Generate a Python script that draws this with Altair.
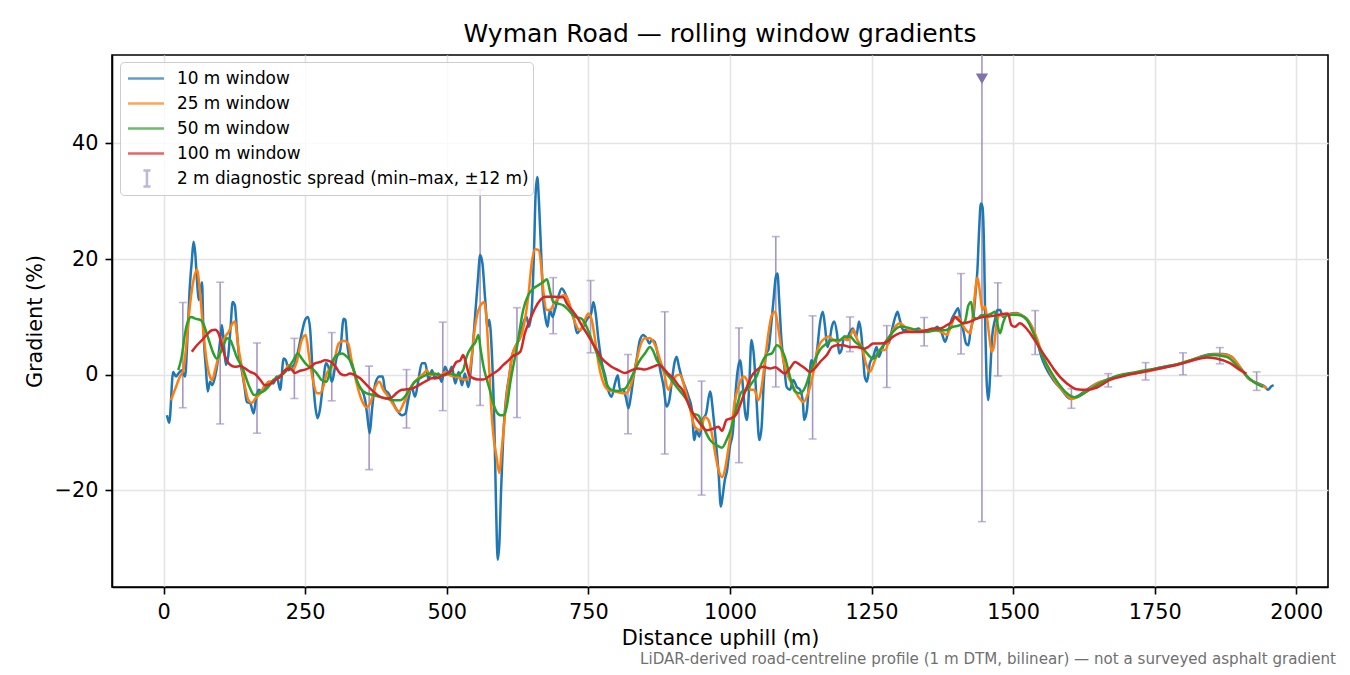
import pandas as pd
import altair as alt

FONT = "DejaVu Sans"

# 10 m window (distance m, gradient %)
d10 = [6, 10, 17, 22, 26, 32, 38, 42, 46, 50, 53, 56, 59, 62, 65, 68, 70, 75, 78, 82,
       86, 91, 96, 100, 103, 106, 110, 114, 118, 122, 126, 129, 133, 138, 143, 147, 153, 159, 163, 168,
       174, 179, 186, 194, 200, 206, 212, 216, 221, 227, 232, 238, 244, 250, 255, 259, 263, 268, 272, 276,
       281, 287, 291, 297, 306, 312, 318, 321, 325, 331, 338, 344, 350, 356, 360, 364, 368, 374, 381, 387,
       391, 397, 403, 412, 421, 427, 432, 438, 444, 450, 456, 462, 468, 474, 479, 485, 491, 497, 503, 509,
       515, 521, 527, 532, 538, 544, 550, 555, 559, 563, 568, 572, 575, 580, 584, 587, 590, 593, 596, 600,
       605, 611, 615, 624, 630, 635, 641, 645, 650, 654, 657, 660, 663, 667, 670, 674, 678, 682, 687, 691,
       697, 703, 709, 715, 721, 725, 730, 735, 741, 747, 755, 759, 763, 768, 774, 780, 785, 791, 797, 802,
       806, 812, 816, 821, 825, 830, 836, 841, 847, 853, 858, 862, 867, 871, 877, 883, 888, 893, 897, 902,
       906, 910, 915, 921, 927, 933, 937, 941, 946, 952, 958, 965, 971, 976, 980, 984, 987, 991, 995, 1000,
       1005, 1009, 1013, 1018, 1023, 1027, 1030, 1034, 1038, 1043, 1047, 1052, 1056, 1060, 1064, 1068, 1072, 1077, 1081, 1084,
       1087, 1091, 1096, 1100, 1106, 1112, 1118, 1124, 1129, 1131, 1136, 1140, 1144, 1150, 1154, 1159, 1164, 1168, 1172, 1176,
       1180, 1184, 1189, 1193, 1197, 1202, 1206, 1211, 1217, 1223, 1228, 1232, 1235, 1238, 1242, 1247, 1253, 1259, 1263, 1268,
       1274, 1280, 1286, 1292, 1296, 1300, 1306, 1315, 1324, 1333, 1341, 1350, 1359, 1366, 1374, 1380, 1386, 1392, 1397, 1403,
       1407, 1412, 1417, 1421, 1425, 1430, 1434, 1437, 1440, 1443, 1446, 1449, 1451, 1453, 1456, 1458, 1461, 1463, 1468, 1472,
       1477, 1482, 1489, 1497, 1506, 1515, 1524, 1533, 1542, 1550, 1557, 1571, 1586, 1600, 1612, 1630, 1648, 1665, 1689, 1706,
       1730, 1753, 1783, 1806, 1830, 1853, 1871, 1886, 1900, 1915, 1933, 1945, 1950, 1956, 1960]
g10 = [-7.0, -8.3, 0.5, -0.3, 0.2, 0.8, -0.3, 6.0, 14.6, 19.8, 23.0, 21.0, 16.4, 12.9, 14.6, 16.0, 8.9, 0.8, -2.9, -1.2,
       -1.8, -0.3, 2.5, 6.0, 8.6, 6.0, 1.7, 3.1, 7.7, 12.6, 12.0, 8.3, 3.4, 0.8, -2.1, -4.7, -4.9, -6.7, -4.4, -2.6,
       -2.9, -2.1, -1.2, -1.5, -0.3, -2.6, 2.8, 2.5, 0.8, 1.4, 2.0, 4.3, 7.2, 9.5, 10.0, 7.7, 0.8, -5.5, -7.5, -6.1,
       -2.1, 2.0, 1.4, -1.2, 3.1, 4.3, 9.7, 9.5, 4.8, 2.0, 0.2, -2.1, -2.6, -4.4, -7.3, -10.1, -6.1, -1.5, -0.3, -0.3,
       -2.6, -3.2, -4.4, -6.1, -7.0, -6.7, -4.4, -2.1, -3.8, -0.9, 2.0, 2.0, -0.9, 0.8, -0.6, 0.2, -1.2, 1.4, 0.2, 1.4,
       -1.5, 0.5, -1.8, 0.2, -2.1, 2.5, 10.0, 16.4, 20.7, 19.3, 12.9, 8.3, 9.5, 3.1, -8.4, -22.2, -32.0, -29.1, -19.9, -10.1,
       -3.8, 0.2, 3.1, 5.4, 6.6, 8.9, 10.0, 8.3, 11.2, 21.0, 31.4, 34.2, 29.6, 20.4, 13.5, 10.0, 8.3, 11.2, 10.0, 11.2,
       13.5, 14.9, 14.1, 12.6, 10.6, 9.5, 7.2, 7.7, 8.3, 9.5, 10.6, 12.6, 10.6, 6.0, 2.0, -0.3, -2.6, -3.8, -1.5, -0.1,
       -2.6, -2.6, -3.8, -5.8, -3.8, -0.3, 3.1, 6.0, 6.9, 6.3, 5.4, 6.0, 5.7, 4.3, 0.8, -2.1, -5.5, -4.4, -1.5, 2.0,
       3.1, 1.4, -0.5, -2.1, -3.8, -6.1, -11.3, -9.6, -10.7, -7.8, -6.7, -2.9, -7.3, -12.4, -17.0, -22.8, -21.1, -18.2, -16.5, -12.4,
       -10.1, -4.4, 0.2, 2.5, -2.1, -6.7, -7.8, -2.1, 6.0, 2.5, -4.4, -11.3, -9.0, -0.9, 3.7, 4.3, 7.7, 12.9, 16.9, 17.5,
       12.9, 6.0, 1.4, -2.1, -2.6, -0.9, -2.1, -2.6, -4.9, -7.8, -6.1, -0.9, 2.5, 1.4, 4.3, 8.9, 10.9, 8.3, 4.8, 6.0,
       8.3, 9.2, 7.2, 3.7, 4.3, 6.6, 6.0, 7.2, 8.0, 6.6, 9.2, 7.0, 3.5, -0.3, -1.2, 2.0, 3.1, 4.8, 3.1, 4.3,
       5.4, 5.4, 7.7, 10.0, 10.9, 9.5, 7.7, 7.7, 7.7, 8.0, 7.4, 7.7, 7.7, 8.3, 7.2, 5.7, 7.7, 9.7, 10.6, 11.5,
       9.5, 7.7, 5.4, 5.1, 7.7, 10.0, 14.6, 18.1, 25.0, 29.6, 29.0, 20.4, 7.7, -0.3, -4.4, -2.6, 3.1, 6.6, 9.5, 11.2,
       11.2, 10.0, 10.3, 10.6, 10.7, 10.3, 9.7, 8.3, 6.0, 3.1, 1.4, -0.9, -2.6, -4.1, -3.8, -2.6, -1.5, -0.9, -0.1, 0.2,
       0.5, 1.1, 1.7, 2.2, 3.1, 3.6, 3.6, 3.1, 1.4, -0.6, -1.5, -2.1, -2.6, -2.0, -1.8]

# 25 m window
d25 = [13, 20, 29, 35, 41, 47, 53, 59, 65, 70, 76, 82, 86, 91, 97, 103, 109, 115, 122, 126,
       132, 138, 144, 150, 156, 162, 171, 179, 188, 197, 206, 215, 221, 228, 235, 244, 251, 257, 265, 271,
       276, 282, 288, 297, 303, 309, 318, 326, 332, 341, 350, 358, 365, 374, 381, 388, 397, 406, 415, 424,
       432, 441, 450, 459, 465, 471, 479, 488, 497, 506, 515, 524, 532, 538, 544, 550, 556, 562, 566, 570,
       574, 578, 582, 588, 593, 597, 601, 606, 611, 615, 624, 633, 638, 644, 650, 656, 662, 667, 671, 677,
       682, 691, 700, 709, 718, 727, 735, 744, 750, 756, 762, 768, 777, 785, 797, 806, 815, 824, 833, 841,
       850, 859, 868, 877, 884, 891, 897, 906, 912, 921, 930, 938, 947, 956, 962, 968, 974, 980, 986, 991,
       997, 1003, 1009, 1015, 1024, 1030, 1036, 1043, 1050, 1056, 1062, 1068, 1074, 1080, 1085, 1091, 1097, 1103, 1112, 1121,
       1130, 1138, 1147, 1153, 1159, 1168, 1174, 1183, 1191, 1200, 1209, 1218, 1225, 1233, 1240, 1247, 1256, 1265, 1274, 1283,
       1292, 1300, 1309, 1318, 1333, 1347, 1362, 1374, 1383, 1390, 1397, 1403, 1409, 1417, 1424, 1430, 1434, 1437, 1441, 1446,
       1450, 1453, 1458, 1462, 1466, 1471, 1476, 1483, 1495, 1506, 1518, 1530, 1542, 1553, 1562, 1575, 1590, 1603, 1615, 1632,
       1650, 1668, 1690, 1710, 1732, 1755, 1782, 1806, 1830, 1853, 1872, 1887, 1901, 1916, 1933, 1948]
g25 = [-4.4, -2.6, -0.3, 0.8, 6.0, 12.3, 16.4, 18.2, 13.5, 7.7, 2.5, -0.3, -0.9, 0.8, 3.1, 4.8, 6.6, 7.4, 8.9, 9.2,
       4.8, 1.4, -2.1, -4.4, -4.9, -4.1, -3.2, -1.8, -1.2, -0.9, -0.3, 0.8, 1.7, 0.8, 2.2, 6.0, 6.9, 3.1, -1.5, -3.2,
       -3.2, -2.1, 0.2, 1.4, 3.1, 5.4, 5.9, 5.4, 2.5, -1.5, -4.4, -5.6, -4.9, -2.1, -1.2, -2.6, -3.8, -5.2, -6.4, -4.9,
       -3.2, -1.5, -0.6, 0.2, 0.8, -0.1, 0.2, -0.3, 0.5, -0.1, -0.3, -0.6, -0.9, -0.6, 3.1, 8.3, 11.2, 12.3, 12.6, 10.0,
       3.1, -4.9, -10.1, -14.2, -17.0, -13.0, -9.0, -3.5, 0.2, 3.1, 5.4, 7.2, 9.5, 13.5, 19.3, 21.7, 21.6, 18.7, 14.1, 11.2,
       11.2, 12.6, 13.5, 13.8, 11.8, 8.9, 7.7, 9.5, 10.6, 9.5, 6.0, 2.0, -1.5, -2.6, -2.9, -3.1, -3.2, -2.1, 1.4, 4.8,
       6.3, 6.3, 5.1, 2.5, 0.2, -2.6, -1.5, -0.1, 0.0, -2.6, -6.1, -9.0, -9.6, -7.3, -7.8, -10.1, -13.6, -16.5, -17.7, -16.5,
       -13.0, -9.0, -4.4, -2.1, -0.3, -0.9, -2.6, -2.6, -4.4, -2.1, 2.5, 7.2, 10.3, 10.9, 8.3, 4.3, 1.4, -0.3, -2.1, -3.8,
       -4.7, -3.2, 0.2, 3.7, 5.4, 6.3, 6.6, 6.0, 5.7, 6.3, 6.0, 7.8, 6.0, 4.8, 2.0, 0.5, 2.5, 4.3, 4.3, 6.6,
       8.3, 8.9, 8.3, 7.7, 7.7, 7.7, 7.7, 7.4, 6.9, 8.3, 10.0, 10.0, 8.9, 7.7, 7.2, 11.2, 15.2, 16.8, 14.6, 11.2,
       11.8, 10.6, 6.6, 4.0, 4.8, 8.9, 10.3, 10.3, 10.5, 10.6, 10.1, 8.9, 6.3, 3.1, 1.1, -1.2, -3.0, -4.2, -3.8, -2.6,
       -1.4, -0.8, -0.1, 0.2, 0.5, 1.0, 1.6, 2.3, 3.0, 3.5, 3.5, 3.0, 1.3, -0.6, -1.6, -2.3]

# 50 m window
d50 = [26, 32, 38, 44, 49, 56, 65, 70, 76, 82, 88, 94, 100, 106, 112, 118, 123, 129, 135, 141,
       147, 153, 160, 168, 176, 185, 194, 203, 212, 220, 229, 237, 244, 253, 262, 271, 279, 288, 297, 306,
       315, 324, 332, 341, 350, 359, 370, 382, 394, 406, 418, 426, 435, 444, 453, 462, 471, 482, 494, 506,
       518, 529, 535, 544, 551, 556, 560, 565, 571, 576, 582, 588, 595, 601, 606, 612, 624, 635, 644, 653,
       662, 671, 677, 682, 688, 697, 706, 715, 727, 738, 747, 756, 765, 774, 782, 791, 803, 815, 824, 832,
       841, 850, 859, 865, 871, 880, 888, 897, 906, 915, 924, 935, 944, 953, 965, 977, 986, 994, 1003, 1012,
       1021, 1030, 1038, 1047, 1056, 1065, 1074, 1083, 1088, 1097, 1106, 1115, 1124, 1133, 1141, 1150, 1159, 1171, 1183, 1194,
       1203, 1212, 1221, 1233, 1242, 1253, 1265, 1277, 1288, 1300, 1312, 1330, 1347, 1365, 1380, 1394, 1406, 1415, 1421, 1426,
       1430, 1436, 1444, 1453, 1462, 1468, 1472, 1477, 1482, 1489, 1500, 1512, 1524, 1536, 1550, 1565, 1580, 1595, 1609, 1630,
       1653, 1683, 1718, 1753, 1789, 1824, 1853, 1877, 1900, 1924, 1941]
g50 = [0.8, 3.1, 7.2, 9.5, 10.0, 9.7, 9.5, 8.9, 7.2, 5.4, 3.7, 2.8, 3.7, 5.1, 6.3, 6.0, 4.8, 3.1, 2.0, 0.8,
       -0.9, -2.4, -3.5, -3.2, -2.9, -2.1, -0.9, -0.3, 0.2, 1.1, 2.5, 3.7, 2.8, 1.7, 1.1, 0.2, -0.9, -1.2, 2.0, 3.4,
       3.7, 3.1, 2.0, -0.9, -2.6, -3.2, -3.5, -3.8, -4.1, -4.4, -4.4, -3.8, -2.4, -1.2, -0.6, -0.1, 0.2, 0.1, -0.1, 0.2,
       -0.1, 0.8, 3.1, 4.8, 5.7, 6.9, 4.3, 1.4, -0.9, -2.6, -4.9, -6.4, -7.0, -7.0, -5.5, -1.5, 4.8, 11.2, 13.8, 14.9,
       15.5, 16.1, 16.5, 14.6, 12.6, 12.3, 12.0, 11.2, 10.0, 9.7, 8.3, 6.0, 3.7, 1.4, -1.5, -2.6, -2.8, -2.4, -0.9, 0.8,
       2.5, 3.7, 4.8, 4.0, 2.5, 1.4, 0.2, -0.9, -2.1, -3.2, -4.4, -6.7, -7.0, -9.0, -11.3, -12.2, -12.6, -11.3, -9.0, -5.5,
       -2.9, -2.6, -1.5, -0.3, 2.0, 3.4, 3.7, 5.1, 4.8, 3.1, -0.3, -2.9, -3.2, -2.1, 0.2, 2.5, 4.3, 5.4, 6.0, 6.0,
       6.6, 6.6, 5.7, 4.8, 3.7, 2.8, 4.3, 6.0, 7.4, 8.3, 8.2, 7.7, 7.4, 7.7, 7.7, 8.3, 8.6, 9.2, 12.0, 12.6,
       10.0, 9.7, 10.3, 10.3, 10.6, 10.9, 8.9, 7.2, 8.9, 10.3, 10.4, 10.3, 9.5, 7.2, 3.7, 0.8, -1.5, -3.2, -3.9, -2.9,
       -1.5, -0.2, 0.5, 1.1, 1.8, 2.8, 3.4, 3.1, 1.1, -1.2, -2.1]

# 100 m window
d100 = [50, 59, 68, 76, 85, 91, 97, 103, 109, 118, 126, 135, 144, 153, 162, 171, 179, 188, 197, 206,
        215, 224, 232, 241, 250, 259, 268, 276, 285, 294, 303, 312, 321, 329, 338, 347, 356, 365, 374, 382,
        394, 403, 412, 421, 430, 438, 447, 456, 465, 474, 482, 491, 500, 509, 517, 524, 529, 534, 540, 547,
        556, 565, 574, 582, 591, 600, 609, 615, 630, 638, 647, 656, 665, 674, 682, 691, 700, 706, 712, 721,
        730, 738, 747, 756, 765, 774, 783, 791, 803, 815, 827, 838, 850, 862, 874, 883, 891, 900, 909, 918,
        924, 935, 947, 959, 971, 980, 986, 994, 1003, 1012, 1021, 1030, 1038, 1047, 1059, 1071, 1080, 1088, 1097, 1106,
        1115, 1124, 1133, 1141, 1150, 1159, 1171, 1180, 1189, 1200, 1212, 1224, 1236, 1244, 1253, 1265, 1277, 1288, 1300, 1312,
        1324, 1336, 1347, 1359, 1371, 1383, 1392, 1397, 1403, 1412, 1424, 1436, 1447, 1459, 1471, 1483, 1491, 1497, 1503, 1512,
        1521, 1530, 1542, 1553, 1565, 1571, 1595, 1612, 1630, 1648, 1671, 1700, 1730, 1759, 1789, 1818, 1842, 1859, 1883, 1901,
        1912]
g100 = [4.0, 5.1, 6.0, 6.9, 7.7, 7.8, 7.2, 5.1, 3.1, 1.7, 1.4, 1.5, 1.1, 0.5, 0.1, -0.9, -1.8, -1.6, -0.9, -0.3,
        0.8, 1.1, 0.3, 0.7, 0.9, 1.3, 2.0, 2.2, 2.5, 2.3, 1.5, 0.2, -0.1, 0.2, -0.1, -0.6, -1.5, -2.4, -3.2, -3.8,
        -4.1, -3.9, -3.1, -2.6, -2.5, -2.4, -2.0, -1.5, -1.0, -0.6, -0.6, -0.2, 0.2, 0.8, 2.2, 2.5, 3.4, 2.0, -0.1, -0.6,
        -0.8, -0.8, -0.3, 0.2, 0.8, 1.7, 2.5, 3.1, 4.0, 7.2, 9.5, 11.5, 12.9, 13.5, 13.5, 13.5, 13.4, 13.4, 12.3, 11.2,
        10.0, 8.6, 7.2, 5.7, 4.3, 2.8, 2.0, 1.4, 0.8, 0.3, 0.8, 1.1, 0.9, 1.3, 1.7, 1.1, 0.2, -0.6, -1.8, -2.9,
        -4.4, -6.7, -8.4, -9.6, -9.3, -9.0, -9.7, -7.8, -7.5, -6.7, -4.4, -2.1, -0.3, 0.8, 1.4, 1.1, 1.3, 0.8, 0.2, 1.1,
        2.2, 1.7, 1.1, 0.5, 1.1, 2.2, 3.4, 4.8, 5.1, 5.1, 4.8, 4.8, 4.5, 4.8, 5.4, 5.4, 5.7, 6.6, 7.2, 7.4,
        7.4, 7.4, 7.7, 8.0, 8.0, 8.6, 9.2, 10.0, 9.5, 8.9, 9.2, 9.7, 10.0, 10.1, 10.3, 10.5, 10.6, 8.6, 8.3, 8.9,
        8.3, 7.2, 5.4, 3.7, 2.0, 1.1, -1.5, -2.5, -2.6, -2.2, -0.9, -0.1, 0.5, 1.1, 1.7, 2.5, 3.0, 2.8, 2.0, 0.8,
        0.2]

# 2 m diagnostic spread: min-max bars
eb_x = [34, 100, 165, 231, 297, 363, 429, 493, 559, 624, 688, 754, 820, 885, 950, 1016,
        1081, 1146, 1212, 1277, 1343, 1408, 1445, 1473, 1539, 1603, 1668, 1734, 1800, 1865, 1930]
eb_lo = [-5.7, -8.5, -10.1, -4.1, -4.5, -16.4, -9.2, -6.2, -5.3, -7.4, 7.1, 3.8, -10.2, -13.7, -20.8, -15.2,
         -2.1, -11.1, 4.0, -2.2, 5.0, 3.6, -25.4, -0.2, 3.5, -5.8, -2.1, -0.9, 0.0, 1.9, -2.7]
eb_hi = [12.5, 16.0, 5.5, 6.3, 7.3, 1.5, 0.9, 9.1, 32.0, 11.6, 16.8, 16.3, 3.5, 10.9, -1.1, 8.1,
         23.9, 10.2, 10.0, 8.5, 9.9, 17.5, 60.0, 15.9, 11.1, -2.4, 0.2, 2.1, 3.8, 4.7, 0.5]

# bar running off the top of the axes
clip_x = [1445]
clip_y = [51.2]

names = ["10 m window", "25 m window", "50 m window", "100 m window",
         "2 m diagnostic spread (min–max, ±12 m)"]
colors = ["#1f77b4", "#ff7f0e", "#2ca02c", "#d62728", "#a597c4"]

lines = pd.concat([
    pd.DataFrame({"dist": d, "grad": g, "series": n})
    for n, d, g in zip(names[:4], [d10, d25, d50, d100], [g10, g25, g50, g100])
])
bars = pd.DataFrame({"dist": eb_x, "lo": eb_lo, "hi": eb_hi, "series": names[4]})
clipped = pd.DataFrame({"dist": clip_x, "grad": clip_y})
footer = pd.DataFrame({"t": ["LiDAR-derived road-centreline profile (1 m DTM, bilinear) — not a surveyed asphalt gradient"]})

xs = alt.Scale(domain=[-91, 2056], nice=False, zero=False)
ys = alt.Scale(domain=[-36.7, 55.3], nice=False, zero=False)
xaxis = alt.Axis(values=list(range(0, 2001, 250)), format="d", title="Distance uphill (m)",
                 labelPadding=8, titlePadding=7)
yaxis = alt.Axis(values=[-20, 0, 20, 40], title="Gradient (%)", labelPadding=7, titlePadding=9)

# legend glyphs: long stroke for the windows, an I for the spread bars
line_path = "M-0.77,0L2.5,0"
bar_path = "M0.95,-0.73L0.95,0.73M0.63,-0.73L1.27,-0.73M0.63,0.73L1.27,0.73"
legend = alt.Legend(
    title=None, orient="none", legendX=8, legendY=7,
    fillColor="rgba(255,255,255,0.8)", strokeColor="#cccccc", cornerRadius=4, padding=4,
    labelFont=FONT, labelFontSize=16.9, labelColor="#000000", labelOffset=28,
    symbolSize=484, symbolStrokeWidth=2.5, rowPadding=0, labelLimit=600, clipHeight=25,
)
cscale = alt.Scale(domain=names, range=colors)
sscale = alt.Scale(domain=names, range=[line_path] * 4 + [bar_path])
C = alt.Color("series:N", scale=cscale, legend=legend)

X = alt.X("dist:Q", scale=xs, axis=xaxis)

rules = alt.Chart(bars).mark_rule(strokeWidth=1.6, clip=True).encode(
    x=X, y=alt.Y("lo:Q", scale=ys, axis=yaxis), y2="hi:Q", color=C)
cap_lo = alt.Chart(bars).mark_tick(orient="horizontal", size=8, thickness=1.6, clip=True).encode(
    x=X, y=alt.Y("lo:Q", scale=ys, axis=yaxis), color=C)
cap_hi = alt.Chart(bars).mark_tick(orient="horizontal", size=8, thickness=1.6, clip=True).encode(
    x=X, y=alt.Y("hi:Q", scale=ys, axis=yaxis), color=C)
# zero-size points: only there so the legend picks up the glyph shapes
keys = alt.Chart(bars).mark_point(size=0, filled=False, clip=True).encode(
    x=X, y=alt.Y("lo:Q", scale=ys, axis=yaxis), color=C,
    shape=alt.Shape("series:N", scale=sscale, legend=legend))

layers = [keys, rules, cap_lo, cap_hi]
for n in names[:4]:
    layers.append(
        alt.Chart(lines).transform_filter(alt.datum.series == n)
        .mark_line(strokeWidth=2.5, clip=True, interpolate="monotone")
        .encode(x=X, y=alt.Y("grad:Q", scale=ys, axis=yaxis), color=C)
    )

tri = alt.Chart(clipped).mark_point(shape="triangle-down", filled=True, size=150,
                                    color="#8272aa", opacity=1).encode(
    x=X, y=alt.Y("grad:Q", scale=ys, axis=yaxis))
note = alt.Chart(footer).mark_text(align="right", baseline="middle", font=FONT,
                                   fontSize=15.1, color="#707070").encode(
    x=alt.value(1224), y=alt.value(604), text="t:N")
layers += [tri, note]

chart = alt.layer(*layers).properties(
    width=1216, height=532,
    title=alt.Title("Wyman Road — rolling window gradients", font=FONT, fontSize=25,
                    fontWeight="normal", color="#000000", offset=8),
    autosize=alt.AutoSizeParams(type="none"),
    padding={"left": 104, "top": 47, "right": 14, "bottom": 86},
).configure_view(
    stroke="#000000", strokeWidth=1.6
).configure_axis(
    labelFont=FONT, labelFontSize=20.8, labelColor="#000000",
    titleFont=FONT, titleFontSize=20.8, titleColor="#000000", titleFontWeight="normal",
    tickColor="#000000", tickSize=7, tickWidth=1.6,
    domainColor="#000000", domainWidth=1.6,
    grid=True, gridColor="#e4e4e4", gridWidth=1.5,
)

chart.save("out.html", embed_options={"renderer": "svg", "actions": False})
